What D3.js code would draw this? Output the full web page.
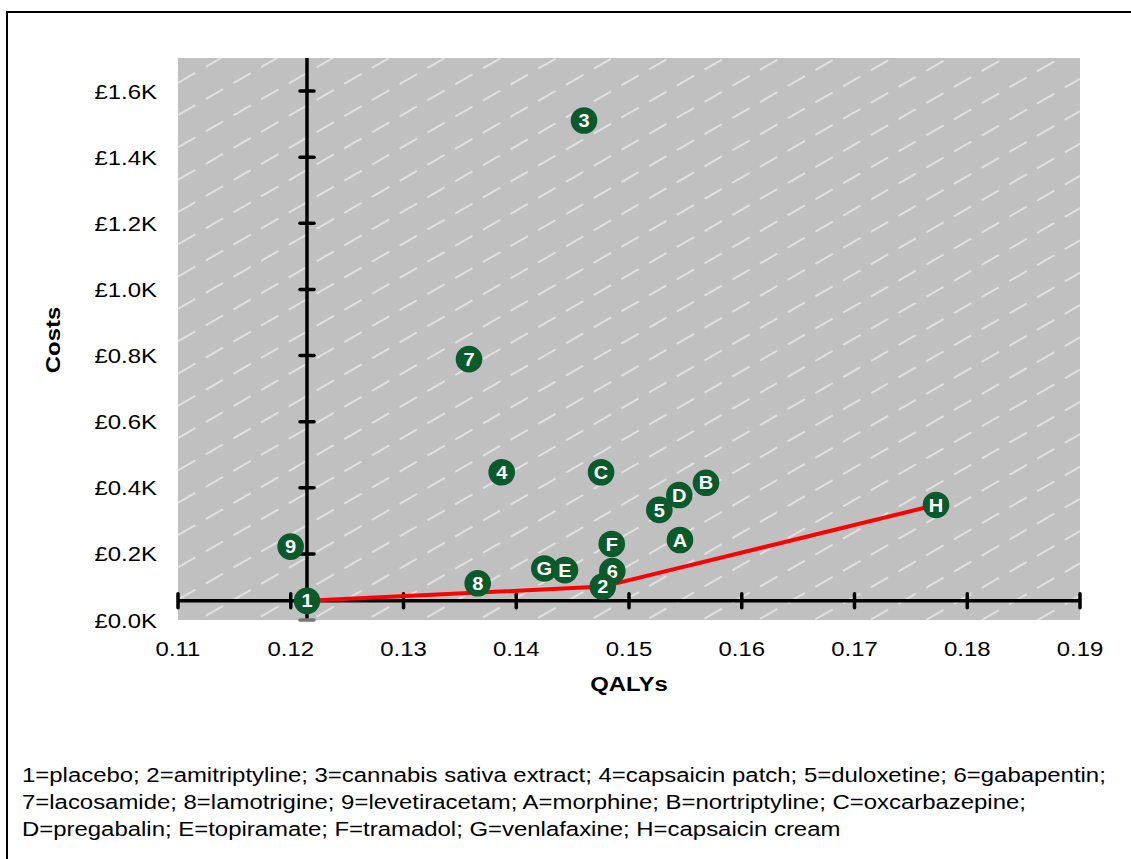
<!DOCTYPE html>
<html>
<head>
<meta charset="utf-8">
<script src="https://cdn.jsdelivr.net/npm/d3@7"></script>
<style>
  html, body { margin: 0; padding: 0; background: #ffffff; }
  svg { display: block; }
  text { font-family: "Liberation Sans", Arial, sans-serif; }
</style>
</head>
<body>
<svg id="chart" width="1131" height="859"></svg>
<script>
// ---- data ----
const labels = ["1","2","3","4","5","6","7","8","9","A","B","C","D","E","F","G","H"];
const qalys  = [0.12144,0.14767,0.14601,0.13871,0.15269,0.14852,0.13581,0.13658,0.11999,0.15452,0.15683,0.14752,0.15446,0.14432,0.14847,0.14249,0.17723];
const costs  = [58,101,1511,447,333,148,789,111,222,242,415,447,378,151,230,156,348];
const frontier = ["1","2","H"];
const xTicks = [0.11,0.12,0.13,0.14,0.15,0.16,0.17,0.18,0.19];
const yTicks = [0,200,400,600,800,1000,1200,1400,1600];
const yTickLabels = ["£0.0K","£0.2K","£0.4K","£0.6K","£0.8K","£1.0K","£1.2K","£1.4K","£1.6K"];
const legendLines = [
  "1=placebo; 2=amitriptyline; 3=cannabis sativa extract; 4=capsaicin patch; 5=duloxetine; 6=gabapentin;",
  "7=lacosamide; 8=lamotrigine; 9=levetiracetam; A=morphine; B=nortriptyline; C=oxcarbazepine;",
  "D=pregabalin; E=topiramate; F=tramadol; G=venlafaxine; H=capsaicin cream"
];
const xTitle = "QALYs", yTitle = "Costs";

// ---- layout ----
const svg = d3.select("#chart");
const X0 = 178, X1 = 1080, Y0 = 58, Y1 = 620;
const x = d3.scaleLinear().domain([0.11, 0.19]).range([X0, X1]);
const y = d3.scaleLinear().domain([0, 1700]).range([Y1, Y0]);
const SX = 1.14; // horizontal glyph stretch

function stext(g, tx, ty, str, opts) {
  return g.append("text")
    .attr("transform", `translate(${tx},${ty})` + (opts.rotate ? ` rotate(${opts.rotate})` : "") + ` scale(${opts.sx || SX},1)`)
    .attr("text-anchor", opts.anchor || "start")
    .attr("font-size", opts.size || 21)
    .attr("font-weight", opts.weight || "normal")
    .attr("fill", opts.fill || "#000")
    .text(str);
}

// outer frame
svg.append("rect").attr("x", 7).attr("y", 12).attr("width", 1140).attr("height", 870)
  .attr("fill", "none").attr("stroke", "#000").attr("stroke-width", 2);

// plot background
const defs = svg.append("defs");
defs.append("clipPath").attr("id", "plotclip").append("rect")
  .attr("x", X0).attr("y", Y0).attr("width", X1 - X0).attr("height", Y1 - Y0);
svg.append("rect").attr("x", X0).attr("y", Y0).attr("width", X1 - X0).attr("height", Y1 - Y0)
  .attr("fill", "#c0c0c0");

// hatch
const hatch = svg.append("g").attr("clip-path", "url(#plotclip)");
const slope = Math.tan(30 * Math.PI / 180);
const rise = (X1 - X0) * slope;
const offs = d3.range(-20, 40).map(i => Y1 + 8 - i * 32.3 + rise);
hatch.selectAll("line").data(offs).join("line")
  .attr("x1", X0).attr("y1", d => d)
  .attr("x2", X1).attr("y2", d => d - rise)
  .attr("stroke", "#e0e0e0").attr("stroke-width", 2)
  .attr("stroke-dasharray", "20 12");

// axes crossing at placebo
const ax = x(qalys[0]), ay = y(costs[0]);
const axes = svg.append("g");
axes.append("line").attr("x1", X0).attr("x2", X1).attr("y1", ay).attr("y2", ay)
  .attr("stroke", "#000").attr("stroke-width", 3.5);
axes.selectAll(".xt").data(xTicks).join("line").attr("class", "xt")
  .attr("x1", d => x(d)).attr("x2", d => x(d)).attr("y1", ay - 7).attr("y2", ay + 7)
  .attr("stroke", "#000").attr("stroke-width", 3.5).attr("stroke-linecap", "round");
axes.append("line").attr("x1", ax).attr("x2", ax).attr("y1", Y0).attr("y2", Y1)
  .attr("stroke", "#000").attr("stroke-width", 3.5);
axes.selectAll(".yt").data(yTicks).join("line").attr("class", "yt")
  .attr("x1", ax - 7).attr("x2", ax + 7).attr("y1", d => y(d)).attr("y2", d => y(d))
  .attr("stroke", d => d === 0 ? "#777" : "#000").attr("stroke-width", 3.5).attr("stroke-linecap", "round");

// tick labels
const tl = svg.append("g");
xTicks.forEach(t => stext(tl, x(t), 656, d3.format(".2f")(t), {anchor: "middle"}));
yTicks.forEach((t, i) => stext(tl, 157, y(t) + 7.5, yTickLabels[i], {anchor: "end"}));

// titles
stext(svg, 629, 691, xTitle, {anchor: "middle", weight: "bold"});
stext(svg, 60, 340, yTitle, {anchor: "middle", weight: "bold", rotate: -90});

// frontier line
const idx = frontier.map(l => labels.indexOf(l));
svg.append("path")
  .datum(idx)
  .attr("d", d3.line().x(i => x(qalys[i])).y(i => y(costs[i])))
  .attr("fill", "none").attr("stroke", "#ff0000").attr("stroke-width", 4);

// points (drawn in reverse order)
const order = d3.range(labels.length).reverse();
const pts = svg.append("g").selectAll("g").data(order).join("g")
  .attr("transform", i => `translate(${x(qalys[i])},${y(costs[i])})`);
pts.append("circle").attr("r", 13.3).attr("fill", "#0b5a2c");
pts.each(function(i) {
  stext(d3.select(this), 0, 6.6, labels[i], {anchor: "middle", weight: "bold", size: 18.5, fill: "#fff", sx: 1.08});
});

// legend
legendLines.forEach((l, i) => stext(svg, 22, 782 + i * 27, l, {anchor: "start"}));
</script>
</body>
</html>
